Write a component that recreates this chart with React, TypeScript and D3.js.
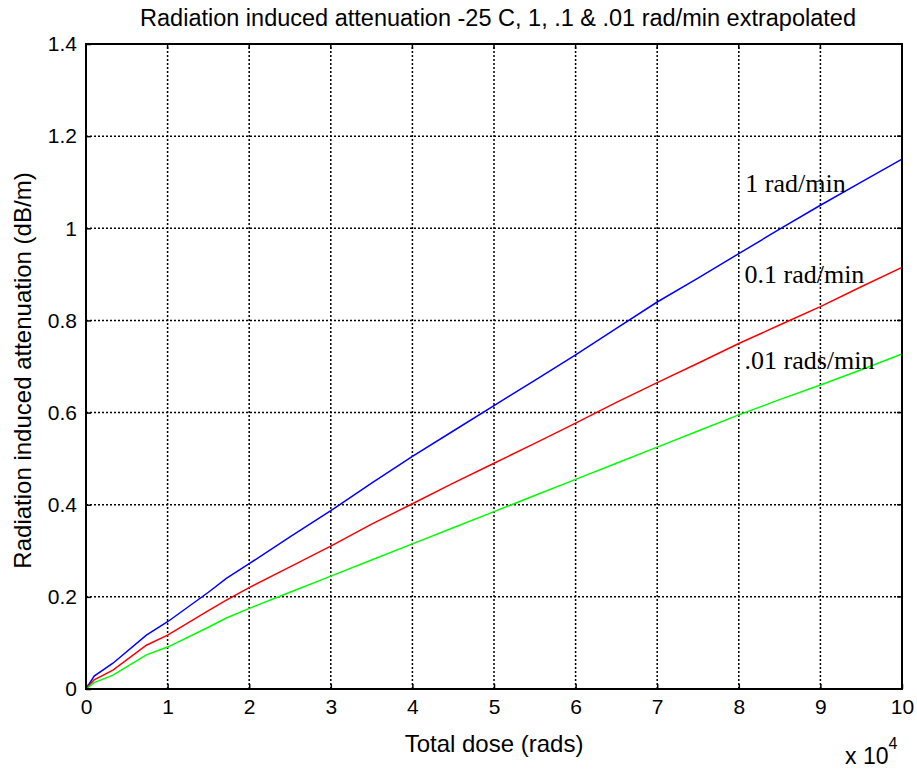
import { useEffect, useRef } from 'react'
import * as d3 from 'd3'

// dose in units of 1e4 rads
const doses = [0, 0.1, 0.33, 0.74, 1, 1.5, 1.72, 2, 2.5, 3, 3.5, 4, 4.5, 5, 5.5, 6, 6.5, 7, 7.5, 8, 8.5, 9, 9.5, 10]
const rate1 = [0, 0.028, 0.056, 0.117, 0.146, 0.21, 0.24, 0.272, 0.33, 0.387, 0.447, 0.505, 0.56, 0.615, 0.67, 0.725, 0.783, 0.84, 0.892, 0.945, 0.998, 1.05, 1.1, 1.15]
const rate01 = [0, 0.02, 0.041, 0.095, 0.117, 0.17, 0.193, 0.22, 0.265, 0.31, 0.358, 0.402, 0.447, 0.49, 0.533, 0.577, 0.622, 0.665, 0.707, 0.75, 0.79, 0.83, 0.873, 0.915]
const rate001 = [0, 0.014, 0.03, 0.074, 0.091, 0.134, 0.154, 0.175, 0.21, 0.245, 0.28, 0.315, 0.35, 0.385, 0.42, 0.455, 0.49, 0.525, 0.56, 0.595, 0.628, 0.66, 0.693, 0.727]

const seriesNames = ['1 rad/min', '0.1 rad/min', '.01 rads/min']
const seriesColors = ['#0000ff', '#ff0000', '#00ff00']
const seriesLabelPos = [{ x: 8.08, y: 1.078 }, { x: 8.07, y: 0.881 }, { x: 8.07, y: 0.695 }]

const xTicks = [0, 1, 2, 3, 4, 5, 6, 7, 8, 9, 10]
const yTicks = [0, 0.2, 0.4, 0.6, 0.8, 1, 1.2, 1.4]

export default function App() {
  const ref = useRef<SVGSVGElement | null>(null)

  useEffect(() => {
    if (!ref.current) return
    const svg = d3.select(ref.current)
    svg.selectAll('*').remove()

    const width = 917
    const height = 770
    const margin = { top: 44, right: 15, bottom: 81, left: 86 }
    const sans = 'Liberation Sans, Arial, sans-serif'

    const x = d3.scaleLinear().domain([0, 10]).range([margin.left, width - margin.right])
    const y = d3.scaleLinear().domain([0, 1.4]).range([height - margin.bottom, margin.top])

    svg.append('rect').attr('width', width).attr('height', height).attr('fill', '#fff')

    // grid
    const grid = svg.append('g')
    grid.selectAll('line.vx').data(xTicks.slice(1, -1)).enter().append('line')
      .attr('x1', d => x(d)).attr('x2', d => x(d))
      .attr('y1', y(0)).attr('y2', y(1.4))
      .attr('stroke', '#000').attr('stroke-width', 1.5).attr('stroke-dasharray', '2,2')
    grid.selectAll('line.hy').data(yTicks.slice(1, -1)).enter().append('line')
      .attr('y1', d => y(d)).attr('y2', d => y(d))
      .attr('x1', x(0)).attr('x2', x(10))
      .attr('stroke', '#000').attr('stroke-width', 1.5).attr('stroke-dasharray', '2,2')

    // series
    const all = [rate1, rate01, rate001]
    const line = d3.line<number>().x((_, i) => x(doses[i])).y(d => y(d))
    all.forEach((vals, i) => {
      svg.append('path').datum(vals)
        .attr('fill', 'none').attr('stroke', seriesColors[i]).attr('stroke-width', 1.5)
        .attr('d', line)
    })

    // axes
    const xAxis = svg.append('g').attr('transform', `translate(0,${y(0)})`)
      .call(d3.axisBottom(x).tickValues(xTicks).tickSize(-5).tickPadding(10).tickFormat(d3.format('d')))
    const yAxis = svg.append('g').attr('transform', `translate(${x(0)},0)`)
      .call(d3.axisLeft(y).tickValues(yTicks).tickSize(-5).tickPadding(9).tickFormat(d => String(+d)))
    ;[xAxis, yAxis].forEach(a => {
      a.select('.domain').remove()
      a.selectAll('line').attr('stroke', '#000').attr('stroke-width', 1.5)
      a.selectAll('text').attr('fill', '#000').style('font-size', '21px').style('font-family', sans)
    })
    // top/right ticks
    svg.append('g').selectAll('line').data(xTicks).enter().append('line')
      .attr('x1', d => x(d)).attr('x2', d => x(d)).attr('y1', y(1.4)).attr('y2', y(1.4) + 5)
      .attr('stroke', '#000').attr('stroke-width', 1.5)
    svg.append('g').selectAll('line').data(yTicks).enter().append('line')
      .attr('y1', d => y(d)).attr('y2', d => y(d)).attr('x1', x(10)).attr('x2', x(10) - 5)
      .attr('stroke', '#000').attr('stroke-width', 1.5)

    // box
    svg.append('rect')
      .attr('x', x(0)).attr('y', y(1.4)).attr('width', x(10) - x(0)).attr('height', y(0) - y(1.4))
      .attr('fill', 'none').attr('stroke', '#000').attr('stroke-width', 2)

    // series labels
    seriesNames.forEach((n, i) => {
      svg.append('text').attr('x', x(seriesLabelPos[i].x)).attr('y', y(seriesLabelPos[i].y))
        .style('font-family', 'Liberation Serif, Times New Roman, serif').style('font-size', '26px')
        .attr('fill', '#000').text(n)
    })

    // title
    svg.append('text').attr('x', (x(0) + x(10)) / 2 + 4).attr('y', 26).attr('text-anchor', 'middle')
      .style('font-family', sans).style('font-size', '23.5px').attr('fill', '#000')
      .text('Radiation induced attenuation -25 C, 1, .1 & .01 rad/min extrapolated')

    svg.append('text').attr('x', (x(0) + x(10)) / 2).attr('y', 752).attr('text-anchor', 'middle')
      .style('font-family', sans).style('font-size', '24px').attr('fill', '#000')
      .text('Total dose (rads)')

    svg.append('text')
      .attr('transform', `translate(31,${(y(0) + y(1.4)) / 2 + 4}) rotate(-90)`)
      .attr('text-anchor', 'middle')
      .style('font-family', sans).style('font-size', '24px').attr('fill', '#000')
      .text('Radiation induced attenuation (dB/m)')

    const mult = svg.append('text').attr('x', 845).attr('y', 764)
      .style('font-family', sans).style('font-size', '23px').attr('fill', '#000')
    mult.append('tspan').text('x 10')
    mult.append('tspan').attr('dy', -15).style('font-size', '16px').text('4')

    svg.attr('viewBox', `0 0 ${width} ${height}`).attr('width', width).attr('height', height)
  }, [])

  return <svg ref={ref} style={{ position: 'absolute', left: 0, top: 0 }}></svg>
}
